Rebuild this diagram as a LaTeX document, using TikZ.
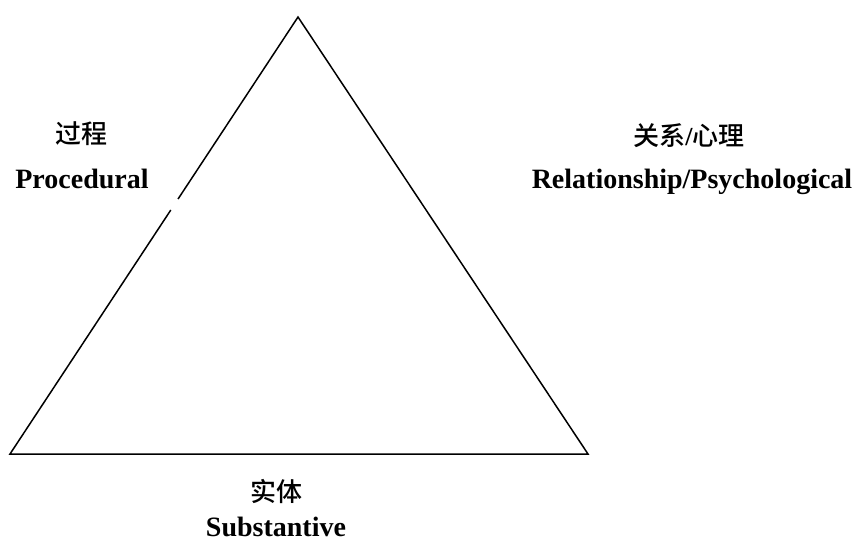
\documentclass[tikz,border=0pt]{standalone}
\usepackage{fontspec}
\setmainfont{Liberation Serif}
\newfontfamily\cjk{Noto Sans CJK SC Medium}
\usetikzlibrary{calc}
\begin{document}
\begin{tikzpicture}[x=1pt,y=-1pt,
  edge/.style={line width=1.5pt,line join=miter},
  zh/.style={font=\fontsize{26}{30}\selectfont\cjk, inner sep=0pt},
  en/.style={font=\fontsize{28}{32}\selectfont\bfseries, inner sep=0pt, anchor=base}]
\useasboundingbox (0,0) rectangle (855,542);
\coordinate (A) at (298,17);
\coordinate (B) at (10,454);
\coordinate (C) at (588,454);
\coordinate (G1) at ($(A)!0.4165!(B)$);
\coordinate (G2) at ($(A)!0.4416!(B)$);
\draw[edge] (G1) -- (A) -- (C) -- (B) -- (G2);
\node[zh] (proczh) at (81,134) {过程};
\node[en] (procen) at (82,188) {Procedural};
\node[zh] (relzh) at (689,136) {关系{\rmfamily\bfseries /}心理};
\node[en] (relen) at (692,188) {Relationship/Psychological};
\node[zh] (subzh) at (276,491) {实体};
\node[en] (suben) at (276,536) {Substantive};
\end{tikzpicture}
\end{document}
